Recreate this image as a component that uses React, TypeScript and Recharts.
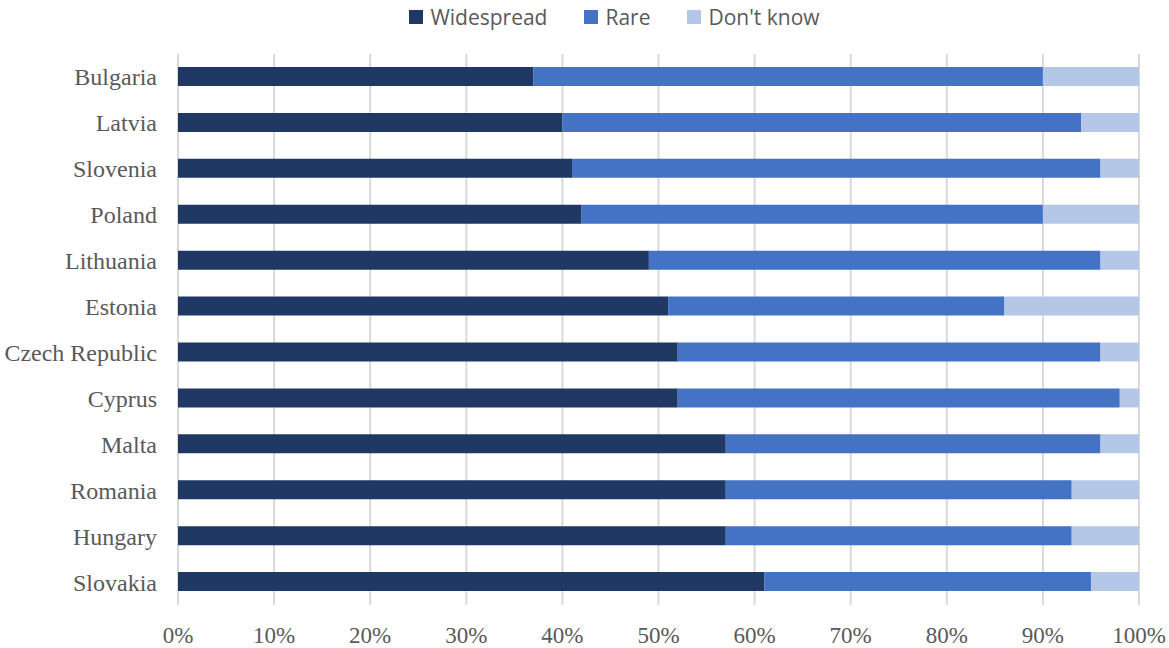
import React from 'react';
import { BarChart, Bar, XAxis, YAxis, CartesianGrid } from 'recharts';

// Categories, top to bottom
const countries = [
  'Bulgaria', 'Latvia', 'Slovenia', 'Poland', 'Lithuania', 'Estonia',
  'Czech Republic', 'Cyprus', 'Malta', 'Romania', 'Hungary', 'Slovakia',
];
const widespread = [37, 40, 41, 42, 49, 51, 52, 52, 57, 57, 57, 61];
const rare = [53, 54, 55, 48, 47, 35, 44, 46, 39, 36, 36, 34];
const dontKnow = [10, 6, 4, 10, 4, 14, 4, 2, 4, 7, 7, 5];
const xTicks = [0, 10, 20, 30, 40, 50, 60, 70, 80, 90, 100];

const series = [
  { key: 'widespread', name: 'Widespread', color: '#203864' },
  { key: 'rare', name: 'Rare', color: '#4472C4' },
  { key: 'dontKnow', name: "Don't know", color: '#B4C7E7' },
];

const data = countries.map((c, i) => ({
  country: c,
  widespread: widespread[i],
  rare: rare[i],
  dontKnow: dontKnow[i],
}));

const serif = '"Liberation Serif", "Times New Roman", serif';
const textColor = '#595959';

// legend sits above the plot, a bit right of page centre
function TopLegend() {
  return (
    <div
      style={{
        position: 'absolute',
        top: 3,
        left: 60,
        width: 1109,
        display: 'flex',
        justifyContent: 'center',
        gap: 37,
        fontFamily: '"Open Sans", sans-serif',
        fontSize: 21,
        color: textColor,
      }}
    >
      {series.map((s) => (
        <div key={s.key} style={{ display: 'flex', alignItems: 'center', gap: 7 }}>
          <span style={{ width: 14, height: 14, background: s.color, display: 'inline-block' }} />
          <span>{s.name}</span>
        </div>
      ))}
    </div>
  );
}

export default function App() {
  return (
    <div style={{ position: 'absolute', left: 0, top: 0, width: 1169, height: 648, background: '#fff' }}>
      <TopLegend />
      <BarChart
        width={1169}
        height={648}
        data={data}
        layout="vertical"
        margin={{ top: 54, right: 30, bottom: 13, left: 0 }}
        barSize={19}
      >
        <CartesianGrid horizontal={false} stroke="#d9d9d9" strokeWidth={2} />
        <XAxis
          type="number"
          domain={[0, 100]}
          ticks={xTicks}
          tickFormatter={(v) => `${v}%`}
          axisLine={false}
          tickLine={false}
          tickSize={0}
          tickMargin={22}
          height={30}
          interval={0}
          tick={{ fontFamily: serif, fontSize: 23, fill: textColor }}
        />
        <YAxis
          type="category"
          dataKey="country"
          width={178}
          axisLine={false}
          tickLine={false}
          tickSize={0}
          tickMargin={21}
          interval={0}
          tick={{ fontFamily: serif, fontSize: 24, fill: textColor }}
        />
        {series.map((s) => (
          <Bar key={s.key} dataKey={s.key} stackId="a" fill={s.color} isAnimationActive={false} />
        ))}
      </BarChart>
    </div>
  );
}
